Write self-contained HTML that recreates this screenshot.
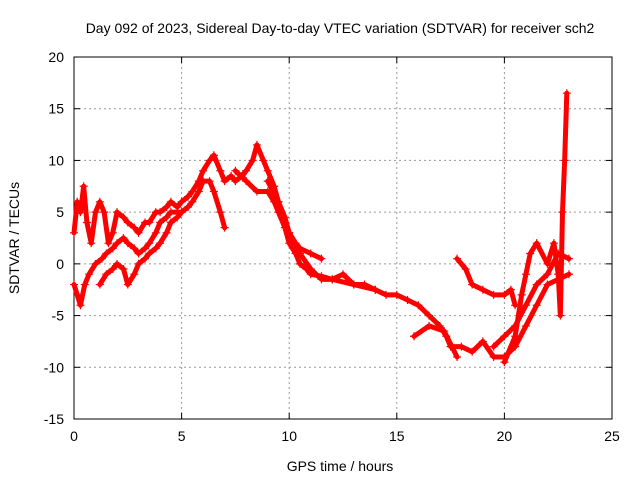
<!DOCTYPE html>
<html><head><meta charset="utf-8"><style>
body{margin:0;background:#fff;}
svg{display:block;font-family:"Liberation Sans",sans-serif;font-size:14px;}
</style></head><body>
<svg id="chart" width="640" height="480">
<text x="340" y="33" text-anchor="middle">Day 092 of 2023, Sidereal Day-to-day VTEC variation (SDTVAR) for receiver sch2</text>
<text x="340" y="471" text-anchor="middle">GPS time / hours</text>
<text transform="translate(19,238) rotate(-90)" text-anchor="middle">SDTVAR / TECUs</text>
<g id="grid"></g><g id="axes"></g><g id="marks"></g>
</svg>
<script>
const xTicks=[0,5,10,15,20,25];
const yTicks=[-15,-10,-5,0,5,10,15,20];
const trackA=[[0,3],[0.15,6],[0.3,5],[0.45,7.5],[0.6,4],[0.8,2],[1,5],[1.2,6],[1.4,5],[1.6,2],[1.8,3],[2,5],[2.3,4.5],[2.5,4],[2.8,3.5],[3,3],[3.3,4],[3.5,4],[3.8,5],[4,5],[4.3,5.5],[4.5,6],[4.8,5.5],[5,6],[5.3,6.5],[5.5,7],[5.8,8],[6,9],[6.3,10],[6.5,10.5],[6.8,9],[7,8],[7.3,8.5],[7.5,8],[7.8,8.5],[8,9],[8.3,10],[8.5,11.5],[8.8,10],[9,9],[9.3,7.5],[9.5,6],[9.8,4.5],[10,3],[10.3,2],[10.5,1.5],[11,1],[11.5,0.5]];
const trackB=[[0,-2],[0.15,-3],[0.3,-4],[0.5,-2],[0.7,-1],[1,0],[1.3,0.5],[1.5,1],[1.8,1.5],[2,2],[2.3,2.5],[2.5,2],[2.8,1.5],[3,1],[3.3,1.5],[3.5,2],[3.8,3],[4,4],[4.3,4.5],[4.5,5],[4.8,5],[5,5],[5.3,5.5],[5.5,6],[5.8,7],[6,8],[6.3,8],[6.5,7],[6.8,5],[7,3.5]];
const trackC=[[1.2,-2],[1.5,-1],[1.8,-0.5],[2,0],[2.3,-0.5],[2.5,-2],[2.8,-1],[3,0],[3.3,0.5],[3.5,1],[3.8,1.5],[4,2],[4.3,3],[4.5,4],[4.8,4.5],[5,5]];
const trackD=[[7.5,9],[8,8],[8.5,7],[9,7],[9.3,6],[9.5,5],[9.8,3.5],[10,2],[10.3,1],[10.5,0],[10.8,-0.5],[11,-1],[11.5,-1.2],[12,-1.5],[12.5,-1],[13,-2],[13.5,-2],[14,-2.5],[14.5,-3],[15,-3],[15.5,-3.5],[16,-4],[16.5,-5],[17,-6],[17.3,-7],[17.5,-8],[18,-8],[18.5,-8.5],[19,-7.5],[19.5,-9],[20,-9],[20.5,-8],[21,-6],[21.5,-4],[22,-2],[22.5,-1.5],[23,-1]];
const trackE=[[9,8],[9.5,6],[10,3],[10.5,1],[11,-0.5],[11.5,-1.5],[12,-1.5],[13,-2],[14,-2.5]];
const trackF=[[15.8,-7],[16.5,-6],[17.2,-6.5],[17.8,-9]];
const trackG=[[17.8,0.5],[18.2,-0.5],[18.5,-2],[19,-2.5],[19.5,-3],[20,-3],[20.3,-2.5],[20.5,-4]];
const trackH=[[20,-9.5],[20.5,-7],[20.8,-3],[21,-1],[21.2,1],[21.5,2],[22,0],[22.3,2],[22.5,-1],[22.6,-5],[22.7,5],[22.8,10],[22.9,16.5]];
const trackI=[[19.5,-8],[20,-7],[20.5,-6],[21,-4],[21.5,-2],[22,-1],[22.5,1],[23,0.5]];
const tracks=[trackA,trackB,trackC,trackD,trackE,trackF,trackG,trackH,trackI];
const X0=74,X1=612,Y0=419,Y1=57;
const xs=v=>X0+(v-0)/25*(X1-X0);
const ys=v=>Y0-(v+15)/35*(Y0-Y1);
const NS="http://www.w3.org/2000/svg";
const grid=document.getElementById('grid'),axes=document.getElementById('axes'),marks=document.getElementById('marks');
function mk(t,a,p){const e=document.createElementNS(NS,t);for(const k in a)e.setAttribute(k,a[k]);p.appendChild(e);return e;}
xTicks.forEach(t=>{const x=xs(t);
 if(t>0&&t<25){const g=mk('line',{x1:x,x2:x,y1:Y1,y2:Y0,stroke:'#999','stroke-dasharray':'2,3','stroke-width':1},grid);
 
 }
 mk('line',{x1:x,x2:x,y1:Y0,y2:Y0-6,stroke:'#000'},axes);mk('line',{x1:x,x2:x,y1:Y1,y2:Y1+6,stroke:'#000'},axes);
 const l=mk('text',{x:x,y:Y0+22,'text-anchor':'middle'},axes);l.textContent=t;
 
 });
yTicks.forEach(t=>{const y=ys(t);
 if(t>-15&&t<20){const g=mk('line',{x1:X0,x2:X1,y1:y,y2:y,stroke:'#999','stroke-dasharray':'2,3','stroke-width':1},grid);
 
 }
 mk('line',{x1:X0,x2:X0+6,y1:y,y2:y,stroke:'#000'},axes);mk('line',{x1:X1,x2:X1-6,y1:y,y2:y,stroke:'#000'},axes);
 const l=mk('text',{x:X0-10,y:y+5,'text-anchor':'end'},axes);l.textContent=t;
 
 });
const fr=mk('rect',{x:X0,y:Y1,width:X1-X0,height:Y0-Y1,fill:'none',stroke:'#000'},axes);


tracks.forEach((tr,i)=>{
 const pl=mk('polyline',{points:tr.map(p=>xs(p[0])+','+ys(p[1])).join(' '),fill:'none',stroke:'#f00','stroke-width':5,'stroke-linejoin':'round','stroke-linecap':'round'},marks);
 
 
 tr.forEach(p=>{const x=xs(p[0]),y=ys(p[1]);
  const m=mk('path',{d:`M${x-4},${y}H${x+4}M${x},${y-4}V${y+4}`,stroke:'#f00','stroke-width':1.2},marks);
  
  });
});
</script>
</body></html>
